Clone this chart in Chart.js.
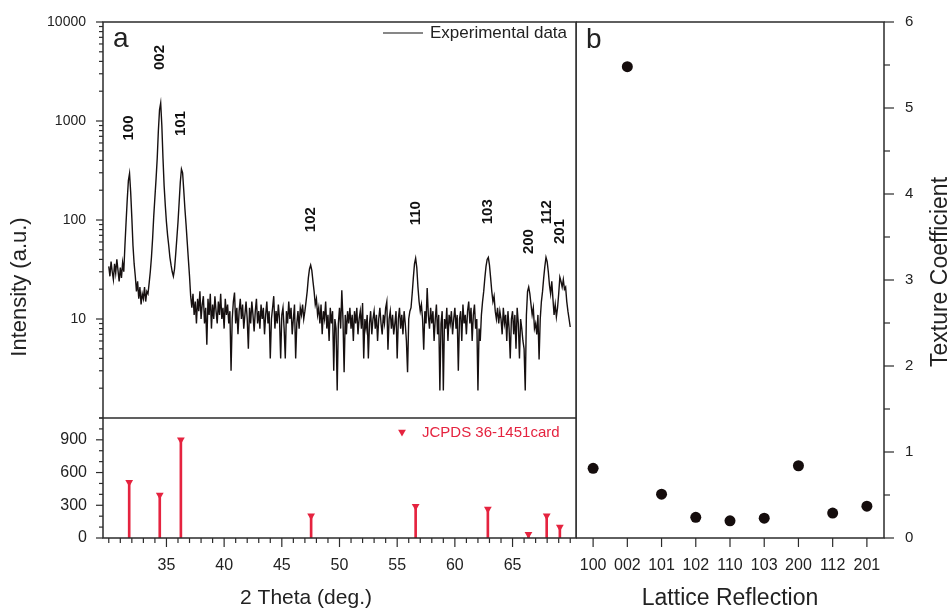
<!DOCTYPE html>
<html lang="en">
<head>
<meta charset="UTF-8">
<title>ZnO film - XRD pattern and texture coefficient</title>
<style>
    body { margin: 0; background: #ffffff; }
    .figure { position: relative; width: 952px; height: 611px; overflow: hidden; }
    .figure canvas { position: absolute; top: 0; }
    #xrdChart { left: 0; }
    #tcChart { left: 576px; }
</style>
<script src="https://cdn.jsdelivr.net/npm/chart.js"></script>
</head>
<body>
<div class="figure">
    <canvas id="xrdChart" width="577" height="611"></canvas>
    <canvas id="tcChart" width="376" height="611"></canvas>
</div>
<script>
// ---- data ----
// measured scan, 2-theta from 30 to 70 deg in 0.1 deg steps
const scanStart = 30;
const scanStep = 0.1;
const intensity = [
    34, 27, 38, 30, 25, 36, 29, 40, 31, 24,
    33, 26, 37, 30, 55, 95, 160, 250, 295, 190,
    105, 55, 36, 27, 19, 24, 16, 21, 14, 18,
    16, 21, 15, 19, 18, 23, 30, 42, 65, 110,
    170, 260, 420, 800, 1300, 1520, 900, 420, 220, 140,
    95, 70, 55, 42, 35, 30, 27, 32, 45, 65,
    95, 150, 240, 327, 300, 200, 130, 90, 60, 40,
    27, 17, 13, 18, 11, 15, 9, 16, 12, 19,
    10, 14, 17, 9, 13, 5.5, 16, 11, 18, 8,
    14, 10, 17, 12, 9, 15, 11, 18, 10, 13,
    8, 16, 11, 14, 9, 12, 3, 10, 15, 18.5,
    9, 13, 7, 12, 16, 10, 14, 8, 11, 15,
    10, 5, 13, 9, 15, 11, 7.5, 12, 16, 9,
    12, 8, 14, 10, 13, 7, 11, 15, 9, 12,
    4, 10, 13, 17, 8, 12, 9, 14, 10, 4,
    11, 13, 8, 4, 12, 9, 15, 10, 13, 7,
    10, 14, 4, 9, 12, 8, 13, 11, 14, 10,
    12, 15, 19, 26, 32, 35, 31, 24, 19, 14,
    16, 11, 13, 9, 14, 7, 12, 10, 15, 8,
    11, 6, 13, 9, 12, 3, 10, 8, 1.9, 9,
    13, 8, 19.5, 10, 2.9, 11, 7, 12, 9, 13,
    8, 11, 6, 12, 9, 13, 7, 10, 12, 8,
    14.5, 4, 10, 8, 11, 4, 9, 12, 7, 10,
    12, 8, 11, 6, 10, 13, 9, 7, 11, 9,
    13, 15, 4.9, 10, 12, 8, 11, 7, 9, 12,
    4, 10, 13, 8, 11, 7, 12, 9, 6, 2.9,
    10, 12, 13, 18, 26, 36, 41, 33, 21, 15,
    12, 14, 10, 4.9, 12, 9, 20.5, 11, 8, 13,
    9, 12, 6, 10, 14, 7, 11, 1.9, 9, 12,
    1.9, 10, 8, 13, 6, 11, 9, 12, 7, 10,
    13, 8, 11, 3, 10, 12, 6, 14, 9, 11,
    7, 12, 15, 9, 13, 6, 11, 14, 8, 10,
    1.9, 8, 6, 11, 15, 19, 26, 34, 40, 42,
    35, 26, 19, 15, 17, 12, 10, 13, 9, 12,
    10, 7, 13, 9, 11, 6, 12, 8, 4, 10,
    12, 7, 11, 5, 13, 9, 4, 10, 8, 6,
    5, 1.9, 11, 19, 21, 18, 14, 11, 13, 8,
    9, 7, 11, 3.9, 10, 15, 19, 26, 34, 42,
    38, 30, 22, 18, 24, 16, 11, 14, 10.5, 13,
    18, 26.5, 24, 21, 25, 20, 21, 15, 12, 10,
    8.3
];

// reflections (hkl) with the reference card positions and intensities
const reflections = ['100', '002', '101', '102', '110', '103', '200', '112', '201'];
const cardPositions = [31.77, 34.42, 36.25, 47.54, 56.60, 62.86, 66.38, 67.96, 69.10];
const cardIntensity = [510, 395, 900, 205, 290, 265, 35, 205, 100];

// texture coefficient per reflection
const textureCoeff = [0.81, 5.48, 0.51, 0.24, 0.20, 0.23, 0.84, 0.29, 0.37];

// labelled ticks
const thetaLabels = [35, 40, 45, 50, 55, 60, 65];
const logLabels = [10, 100, 1000, 10000];
const cardLabels = [0, 300, 600, 900];
const tcLabels = [0, 1, 2, 3, 4, 5, 6];

// ---- styling ----
const FONT = '"Liberation Sans", Arial, sans-serif';
const axisColor = '#2b2b2b';
const cardRed = '#e5233f';
const dotColor = '#150d0d';

Chart.defaults.font.family = FONT;
Chart.defaults.color = '#222';
Chart.defaults.animation = false;

function drawText(ctx, text, x, y, font, color, angle, align) {
    ctx.save();
    ctx.translate(x, y);
    ctx.rotate(angle || 0);
    ctx.font = font;
    ctx.fillStyle = color;
    ctx.textAlign = align || 'center';
    ctx.textBaseline = 'middle';
    ctx.fillText(text, 0, 0);
    ctx.restore();
}

function downTriangle(ctx, x, y, r) {
    ctx.beginPath();
    ctx.moveTo(x, y + r);
    ctx.lineTo(x - r * 0.866, y - r / 2);
    ctx.lineTo(x + r * 0.866, y - r / 2);
    ctx.closePath();
    ctx.fill();
}

// fixed axis thickness; label overflow padding is dropped so the
// plot area sits exactly inside layout.padding
function fitAxis(size) {
    return s => {
        if (s.isHorizontal()) s.height = size; else s.width = size;
        s.paddingTop = 0;
        s.paddingBottom = 0;
        s.paddingLeft = 0;
        s.paddingRight = 0;
    };
}

// box around the plot area plus outward major/minor tick marks
const framePlugin = {
    id: 'frame',
    afterDatasetsDraw(chart, args, opts) {
        const { ctx, chartArea: a } = chart;
        ctx.save();
        ctx.strokeStyle = axisColor;
        ctx.lineWidth = 1.5;
        ctx.strokeRect(a.left, a.top, a.right - a.left, a.bottom - a.top);
        (opts.dividers || []).forEach(id => {
            const y = chart.scales[id].top;
            ctx.beginPath();
            ctx.moveTo(a.left, y);
            ctx.lineTo(a.right, y);
            ctx.stroke();
        });
        ctx.lineWidth = 1.2;
        Object.entries(opts.tickLength || {}).forEach(([id, len]) => {
            const s = chart.scales[id];
            s.ticks.forEach((t, i) => {
                const l = t.label !== '' ? len[0] : len[1];
                const p = s.getPixelForTick(i);
                ctx.beginPath();
                if (s.position === 'left') {
                    ctx.moveTo(a.left, p); ctx.lineTo(a.left - l, p);
                } else if (s.position === 'right') {
                    ctx.moveTo(a.right, p); ctx.lineTo(a.right + l, p);
                } else {
                    ctx.moveTo(p, a.bottom); ctx.lineTo(p, a.bottom + l);
                }
                ctx.stroke();
            });
        });
        ctx.restore();
    }
};

// hkl labels, legends, panel letter and axis titles of the XRD panel
const xrdNotes = {
    id: 'xrdNotes',
    afterDraw(chart) {
        const { ctx, chartArea: a, scales } = chart;
        const { x, yLog, yLin } = scales;

        reflections.forEach((hkl, i) => {
            let top = 0;
            intensity.forEach((v, j) => {
                if (Math.abs(scanStart + j * scanStep - cardPositions[i]) <= 0.25) top = Math.max(top, v);
            });
            drawText(ctx, hkl, x.getPixelForValue(cardPositions[i]), yLog.getPixelForValue(top) - 33,
                'bold 15px ' + FONT, '#111', -Math.PI / 2, 'left');
        });

        // legend: measured curve
        ctx.save();
        ctx.strokeStyle = '#111';
        ctx.lineWidth = 1.2;
        ctx.beginPath();
        ctx.moveTo(a.right - 193, a.top + 11);
        ctx.lineTo(a.right - 153, a.top + 11);
        ctx.stroke();
        ctx.restore();
        drawText(ctx, 'Experimental data', a.right - 146, a.top + 11, '17px ' + FONT, '#222', 0, 'left');

        // legend: reference card
        ctx.save();
        ctx.fillStyle = cardRed;
        downTriangle(ctx, a.right - 174, yLin.top + 14, 4.5);
        ctx.restore();
        drawText(ctx, 'JCPDS 36-1451card', a.right - 154, yLin.top + 15, '15px ' + FONT, cardRed, 0, 'left');

        drawText(ctx, 'a', a.left + 10, a.top + 17, '28px ' + FONT, '#222', 0, 'left');
        drawText(ctx, 'Intensity (a.u.)', 20, 287, '22px ' + FONT, '#222', -Math.PI / 2);
        drawText(ctx, '2 Theta (deg.)', 306, 598, '21px ' + FONT, '#222');
    }
};

// panel letter and axis titles of the texture panel
const tcNotes = {
    id: 'tcNotes',
    afterDraw(chart) {
        const { ctx, chartArea: a } = chart;
        drawText(ctx, 'b', a.left + 10, a.top + 18, '28px ' + FONT, '#222', 0, 'left');
        drawText(ctx, 'Texture Coefficient', 364.5, 272, '23px ' + FONT, '#222', -Math.PI / 2);
        drawText(ctx, 'Lattice Reflection', (a.left + a.right) / 2, 598.5, '23px ' + FONT, '#222');
    }
};

const hiddenGrid = { display: false, drawTicks: false };
const hiddenBorder = { display: false };

function rangeTicks(from, to, step) {
    const out = [];
    for (let v = from; v <= to + 1e-9; v += step) out.push({ value: Math.round(v * 100) / 100 });
    return out;
}

// ---- panel a: XRD pattern (log) over the reference card (linear) ----
new Chart(document.getElementById('xrdChart'), {
    type: 'line',
    data: {
        datasets: [
            {
                label: 'JCPDS 36-1451card',
                data: cardPositions.map((p, i) => ({ x: p, y: cardIntensity[i] })),
                yAxisID: 'yLin',
                showLine: false,
                pointStyle: 'triangle',
                rotation: 180,
                pointRadius: 4.5,
                pointBackgroundColor: cardRed,
                pointBorderColor: cardRed,
                pointBorderWidth: 0
            },
            {
                type: 'bar',
                label: 'card lines',
                data: cardPositions.map((p, i) => ({ x: p, y: cardIntensity[i] })),
                yAxisID: 'yLin',
                backgroundColor: cardRed,
                barThickness: 2
            },
            {
                label: 'Experimental data',
                data: intensity.map((v, i) => ({ x: Math.round((scanStart + i * scanStep) * 100) / 100, y: v })),
                yAxisID: 'yLog',
                borderColor: '#161010',
                borderWidth: 1.4,
                pointRadius: 0,
                tension: 0
            }
        ]
    },
    options: {
        responsive: false,
        devicePixelRatio: 1,
        layout: { autoPadding: false, padding: { top: 22, right: 1, bottom: 0, left: 0 } },
        plugins: {
            legend: { display: false },
            tooltip: { enabled: false },
            frame: {
                dividers: ['yLin'],
                tickLength: { x: [9, 5], yLog: [7, 4], yLin: [7, 4] }
            }
        },
        scales: {
            x: {
                type: 'linear',
                min: 30,
                max: 70,
                grid: hiddenGrid,
                border: hiddenBorder,
                afterBuildTicks: s => { s.ticks = rangeTicks(30, 70, 1); },
                afterFit: fitAxis(73),
                ticks: {
                    autoSkip: false,
                    maxRotation: 0,
                    padding: 18,
                    font: { size: 16 },
                    callback: v => thetaLabels.includes(v) ? String(v) : ''
                }
            },
            yLog: {
                type: 'logarithmic',
                position: 'left',
                stack: 'left',
                stackWeight: 396,
                weight: 1,
                min: 1,
                max: 10000,
                grid: hiddenGrid,
                border: hiddenBorder,
                afterBuildTicks: s => {
                    const t = [];
                    [1, 10, 100, 1000].forEach(d => {
                        for (let m = 1; m <= 9; m++) t.push({ value: d * m });
                    });
                    t.push({ value: 10000 });
                    s.ticks = t;
                },
                afterFit: fitAxis(103),
                ticks: {
                    autoSkip: false,
                    padding: 17,
                    font: { size: 14 },
                    callback: v => logLabels.includes(v) ? String(v) : ''
                }
            },
            yLin: {
                type: 'linear',
                position: 'left',
                stack: 'left',
                stackWeight: 120,
                weight: 0,
                min: 0,
                max: 1100,
                grid: hiddenGrid,
                border: hiddenBorder,
                afterBuildTicks: s => { s.ticks = rangeTicks(0, 1100, 100); },
                afterFit: fitAxis(103),
                ticks: {
                    autoSkip: false,
                    padding: 16,
                    font: { size: 16 },
                    callback: v => cardLabels.includes(v) ? String(v) : ''
                }
            }
        }
    },
    plugins: [framePlugin, xrdNotes]
});

// ---- panel b: texture coefficient per reflection ----
new Chart(document.getElementById('tcChart'), {
    type: 'line',
    data: {
        labels: reflections,
        datasets: [{
            label: 'Texture Coefficient',
            data: textureCoeff,
            showLine: false,
            pointRadius: 5.5,
            pointBackgroundColor: dotColor,
            pointBorderColor: dotColor,
            pointBorderWidth: 0
        }]
    },
    options: {
        responsive: false,
        devicePixelRatio: 1,
        layout: { autoPadding: false, padding: { top: 22, right: 0, bottom: 0, left: 0 } },
        plugins: {
            legend: { display: false },
            tooltip: { enabled: false },
            frame: { tickLength: { x: [9, 5], y: [10, 6] } }
        },
        scales: {
            x: {
                type: 'category',
                offset: true,
                grid: hiddenGrid,
                border: hiddenBorder,
                afterFit: fitAxis(73),
                ticks: { autoSkip: false, maxRotation: 0, padding: 18, font: { size: 16 } }
            },
            y: {
                type: 'linear',
                position: 'right',
                min: 0,
                max: 6,
                grid: hiddenGrid,
                border: hiddenBorder,
                afterBuildTicks: s => { s.ticks = rangeTicks(0, 6, 0.5); },
                afterFit: fitAxis(68),
                ticks: {
                    autoSkip: false,
                    padding: 21,
                    font: { size: 15 },
                    callback: v => tcLabels.includes(v) ? String(v) : ''
                }
            }
        }
    },
    plugins: [framePlugin, tcNotes]
});
</script>
</body>
</html>
